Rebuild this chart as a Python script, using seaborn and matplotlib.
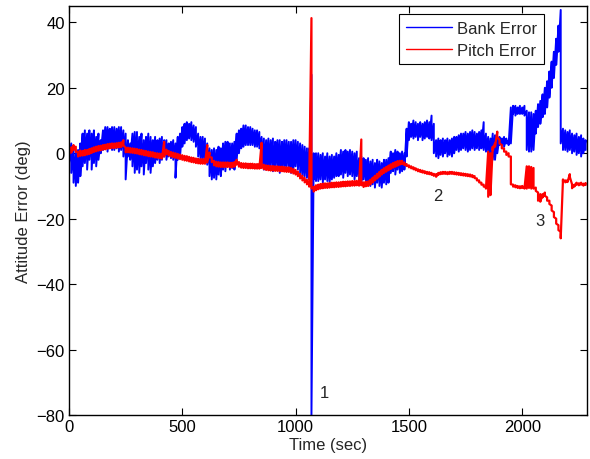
import matplotlib
matplotlib.use("Agg")
import matplotlib.pyplot as plt
import seaborn as sns
import pandas as pd
import numpy as np

# sample times (sec), one reading every 10 s
time = np.arange(0, 2290, 10)

# bank error (deg): top and bottom of the noisy trace at each sample time
bank_hi = [
    5, 3, 1, 0, 1, 3, 6, 7, 6, 7,                             # 0-90
    6, 7, 5, 6, 4, 7, 8, 8, 7.5, 8,                           # 100-190
    8, 7.5, 8, 8, 7, 6, 4, 3, 6, 6.5,                         # 200-290
    6.5, 5, 6, 4, 5, 6, 5, 4, 5, 4,                           # 300-390
    4.5, 5, 4, 4, 3, 3.5, 4, 3, 5, 6,                         # 400-490
    8, 9, 9.5, 9, 9.5, 8.5, 8, 6, 5, 5,                       # 500-590
    4.5, 3, 1.5, 1, 1.5, 1, 2, 1.5, 3, 3.5,                   # 600-690
    3.5, 3, 3, 3.5, 6, 7, 7.5, 8.5, 8.5, 8,                   # 700-790
    8, 7.5, 7, 7, 6.5, 5, 4.5, 4, 4.5, 4,                     # 800-890
    4.5, 3.5, 4, 4, 3.5, 4, 4, 3.5, 3.5, 4,                   # 900-990
    4, 3.5, 3, 2.5, 2, 1.5, 1.5, 24, 0, 0,                    # 1000-1090
    0, -0.5, 0, -1, 0, -1, -0.5, -1, 0, -0.5,                 # 1100-1190
    1, 0.5, 1, 0.5, 1, 0.5, 0, 0.5, -1.5, -1,                 # 1200-1290
    -1.5, -2, -1.5, -2.5, -2, -3, -2, -2.5, -3, -2,           # 1300-1390
    -2, -1.5, 0.5, 0, 1, 0.5, 0, 0.5, 0, 7.5,                 # 1400-1490
    9.5, 9, 10, 9.5, 9, 9.5, 9, 9.5, 10, 9.5,                 # 1500-1590
    11.5, 9, 4, 4.5, 4, 4.5, 4, 4.5, 4, 4.5,                  # 1600-1690
    5, 5, 5.5, 6, 6, 6.5, 6, 6.5, 7, 6.5,                     # 1700-1790
    6, 6.5, 7, 9.5, 6, 5, 4.5, 6, 5.5, 5,                     # 1800-1890
    5, 4.5, 5, 4.5, 4, 14, 14.5, 14.5, 14, 14.5,              # 1900-1990
    14, 14.5, 13, 12.5, 12.5, 12, 13, 15, 16, 18,             # 2000-2090
    20, 22, 25, 28, 31, 35, 39, 43.8, 7.5, 7,                 # 2100-2190
    6.5, 7, 6, 5.5, 6, 5, 5.5, 4.5, 4,                        # 2200-2280
]
bank_lo = [
    -3, -6, -9, -10, -9, -7, -4, -3, -5, -2,                  # 0-90
    -5, -3, -4, -2, 0, 1, 1.5, 0.5, 2, 1,                     # 100-190
    1, 1.5, 0.5, 1, -1, -8, -1, -2, -4, -6,                   # 200-290
    -5, -6, -4, -6.5, -3, -5, -6, -4, -3, -2,                 # 300-390
    -3, -2, -1, -2, -1, -1.5, -2, -7.5, -2, -1,               # 400-490
    2, 3, 4, 4.5, 4, 3.5, 2, -1, -2, -2,                      # 500-590
    -2.5, -3.5, -7, -8, -7.5, -8, -6.5, -7, -5, -5.5,         # 600-690
    -4, -5, -4.5, -5, -2, 0, 1.5, 2, 2.5, 2.5,                # 700-790
    2.5, 2.5, 2, 2, 1.5, -4, -5, -5, -4.5, -4,                # 800-890
    -5.5, -4, -5, -6, -4.5, -5, -4, -5.5, -6, -5,             # 900-990
    -4, -5, -6.5, -7, -7, -7.5, -8, -80, -8, -8.5,            # 1000-1090
    -8.5, -8, -9, -8, -8.5, -9, -8, -7.5, -7, -7,             # 1100-1190
    -6.5, -7.5, -6, -7, -6.5, -7, -8, -7, -9, -9.5,           # 1200-1290
    -8, -9.5, -9, -10, -9.5, -10.5, -9, -10, -10.5, -9,       # 1300-1390
    -9.5, -9, -6, -5.5, -6.5, -5, -6, -5.5, -5, -1,           # 1400-1490
    4, 5, 4.5, 5, 4, 5, 4, 4.5, 5, 4.5,                       # 1500-1590
    4, 0, -1, -1.5, -0.5, -1, 0, -1, -0.5, -1,                # 1600-1690
    0, 1, 0.5, 1, 1.5, 1, 0.5, 1, 1.5, 1,                     # 1700-1790
    1.5, 1, 1.5, 1, 0.5, -1, -1.5, -2, -2, 0,                 # 1800-1890
    2.5, 2.5, 2, 3, 2.5, 3, 12, 11.5, 12, 12,                 # 1900-1990
    12, 11.5, 1, 0.5, 0.5, 1, 6, 8, 9, 11,                    # 2000-2090
    12, 14, 17, 20, 23, 27, 31, 3, 1, 1,                      # 2100-2190
    0.5, 1, 0, 0.5, -0.5, 0, -1, 0, 1,                        # 2200-2280
]

# pitch error (deg): top and bottom of the trace at each sample time
pitch_hi = [
    1.2, 1.8, 2.5, 2, 0.5, 0.8, 0.7, 1, 1, 1.3,                          # 0-90
    1.5, 1.8, 2, 2.2, 2.3, 2.5, 2.6, 2.8, 2.9, 3,                        # 100-190
    3, 3.1, 3.2, 3.3, 4, 1.7, 1.7, 1.6, 1.5, 1.4,                        # 200-290
    1.3, 1.1, 1, 0.8, 0.7, 0.5, 0.4, 0.3, 0.1, 0,                        # 300-390
    -0.1, -0.2, 3.5, 1.1, 0.7, 0.4, 0.2, 0, -0.2, -0.4,                  # 400-490
    -0.6, -0.8, -0.9, -1.1, -1.3, -1.4, -1.6, -1.7, -1.8, -1.8,          # 500-590
    -1.8, 2.5, 0.2, -1.3, -2.3, -2.6, -2.7, -2.8, -2.8, -2.8,            # 600-690
    -2.8, -2.9, -2.9, -2.7, -2, -2.7, -3, -3.1, -3.1, -3.2,              # 700-790
    -3.2, -3.2, -3.3, -3.3, -3.3, 3.2, -3.5, -3.7, -3.8, -3.9,           # 800-890
    -3.9, -4, -4, -4.1, -4.1, -4.2, -4.3, -4.3, -4.5, -4.8,              # 900-990
    -5.1, -5.6, -6.3, -6.9, -7.5, -8.1, -8.8, 41.3, -10.3, -9.8,         # 1000-1090
    -9.6, -9.4, -9.3, -9.2, -9.2, -9.1, -9, -9, -8.9, -8.9,              # 1100-1190
    -8.8, -8.7, -8.7, -8.6, -8.6, -8.5, -8.5, -8.4, -8.5, 4.2,           # 1200-1290
    -8.9, -8.7, -8.6, -8.1, -7.5, -6.9, -6.3, -5.7, -5.1, -4.6,          # 1300-1390
    -4.2, -3.8, -3.4, -3, -2.7, -2.4, -2.3, -2.3, -2.8, -3.3,            # 1400-1490
    -3.7, -4, -4.3, -4.6, -4.9, -5.1, -5.3, -5.5, -5.7, -5.8,            # 1500-1590
    -6, -6.3, -6.4, -6, -5.8, -5.7, -5.7, -5.8, -5.7, -5.7,              # 1600-1690
    -5.8, -5.9, -6, -6.1, -6.2, -6.3, -6.4, -6.5, -6.7, -7,              # 1700-1790
    -7.7, -8.3, -9, -9.6, -10.2, 0.5, 0, 2, 3, 6.6,                      # 1800-1890
    4, 2.5, 1.5, 0.5, 0, -1, -9.6, -9.8, -10, -10.1,                     # 1900-1990
    -10, -10.2, -4, -4, -4.2, -4.5, -10.5, -12, -12.5, -12.5,            # 2000-2090
    -12, -13.5, -14.5, -16, -18, -20, -22, -24, -8, -8.3,                # 2100-2190
    -8.2, -6.4, -9.5, -9.6, -9, -9.2, -9, -9.3, -9.1,                    # 2200-2280
]
pitch_lo = [
    -0.3, 0.2, 1, 0.4, -1, -0.8, -0.7, -0.6, -0.4, -0.2,                 # 0-90
    0.1, 0.4, 0.6, 0.8, 0.9, 1.1, 1.2, 1.4, 1.5, 1.6,                    # 100-190
    1.6, 1.7, 1.8, 1.9, 2.4, 0.3, 0.3, 0.2, 0.1, 0,                      # 200-290
    -0.1, -0.3, -0.4, -0.6, -0.7, -0.9, -1, -1.1, -1.3, -1.4,            # 300-390
    -1.5, -1.6, -1, -0.3, -0.7, -1, -1.2, -1.4, -1.6, -1.8,              # 400-490
    -2, -2.2, -2.3, -2.5, -2.7, -2.8, -3, -3.1, -3.2, -3.2,              # 500-590
    -3.2, -2.8, -1.2, -2.7, -3.7, -4, -4.1, -4.2, -4.2, -4.2,            # 600-690
    -4.2, -4.3, -4.3, -4.1, -3.5, -4.1, -4.4, -4.5, -4.5, -4.6,          # 700-790
    -4.6, -4.6, -4.7, -4.7, -4.7, -4.5, -4.9, -5.1, -5.2, -5.3,          # 800-890
    -5.3, -5.4, -5.4, -5.5, -5.5, -5.6, -5.7, -5.7, -5.9, -6.2,          # 900-990
    -6.5, -7, -7.7, -8.3, -8.9, -9.5, -10.2, -10.8, -11.7, -11.3,        # 1000-1090
    -11, -10.8, -10.7, -10.6, -10.6, -10.5, -10.4, -10.4, -10.3, -10.3,  # 1100-1190
    -10.2, -10.1, -10.1, -10, -10, -9.9, -9.9, -9.8, -9.9, -9.8,         # 1200-1290
    -10.3, -10.1, -10, -9.5, -8.9, -8.3, -7.7, -7.1, -6.5, -6,           # 1300-1390
    -5.6, -5.2, -4.8, -4.4, -4.1, -3.8, -3.5, -3.3, -3.6, -3.9,          # 1400-1490
    -4.3, -4.6, -4.9, -5.2, -5.5, -5.7, -5.9, -6.1, -6.3, -6.4,          # 1500-1590
    -6.6, -6.9, -7.2, -6.6, -6.4, -6.3, -6.3, -6.4, -6.3, -6.3,          # 1600-1690
    -6.4, -6.5, -6.6, -6.7, -6.8, -6.9, -7, -7.1, -7.3, -7.6,            # 1700-1790
    -8.3, -8.9, -9.6, -10.2, -10.8, -13.3, -12.8, 1, 2, 5,               # 1800-1890
    3, 1.5, 0.5, -0.5, -1, -9.5, -10.2, -10.4, -10.6, -10.7,             # 1900-1990
    -10.6, -10.8, -10.8, -10.6, -10.8, -10.8, -11.5, -14.5, -14.8, -13.5,  # 2000-2090
    -13, -14.5, -15.5, -17.5, -19.5, -21.5, -23.5, -26, -8.6, -8.9,      # 2100-2190
    -8.8, -7.2, -10.7, -10.2, -9.6, -9.8, -9.6, -9.9, -9.7,              # 2200-2280
]

series_names = ["Bank Error", "Pitch Error"]
colors = ["#0000ff", "#ff0000"]
x_ticks = [0, 500, 1000, 1500, 2000]
y_ticks = [-80, -60, -40, -20, 0, 20, 40]


def trace(hi, lo, name):
    # walk top -> bottom at every sample so the noisy band is drawn as one line
    vals = np.column_stack([hi, lo]).ravel()
    return pd.DataFrame({"Time": np.repeat(time, 2), "Error": vals, "Series": name})


bank_df = trace(bank_hi, bank_lo, series_names[0])
pitch_df = trace(pitch_hi, pitch_lo, series_names[1])

sns.set_style("ticks")
plt.rcParams["font.family"] = ["Liberation Sans", "DejaVu Sans"]
plt.rcParams["font.size"] = 12

fig = plt.figure(figsize=(5.9, 4.6), dpi=100)
ax = fig.add_axes([69 / 590, 1 - 416 / 460, 518 / 590, 409 / 460])

sns.lineplot(data=bank_df, x="Time", y="Error", estimator=None, sort=False,
             color=colors[0], linewidth=1.4, label=series_names[0], ax=ax)
sns.lineplot(data=pitch_df, x="Time", y="Error", estimator=None, sort=False,
             color=colors[1], linewidth=1.6, label=series_names[1], ax=ax)

ax.set_xlim(0, 2286)
ax.set_ylim(-80, 45)
ax.set_xticks(x_ticks)
ax.set_yticks(y_ticks)
ax.set_xlabel("Time (sec)", fontsize=12, labelpad=2)
ax.set_ylabel("Attitude Error (deg)", fontsize=12, labelpad=4)
ax.tick_params(direction="in", length=5, width=0.8, top=True, right=True,
               labelsize=12, colors="black", pad=3)
for sp in ax.spines.values():
    sp.set_visible(True)
    sp.set_color("black")
    sp.set_linewidth(1.0)

ax.text(1125, -73, "1", fontsize=12, ha="center", va="center")
ax.text(1628, -13, "2", fontsize=12, ha="center", va="center")
ax.text(2079, -20.5, "3", fontsize=12, ha="center", va="center")

leg = ax.legend(loc="upper right", bbox_to_anchor=(0.917, 0.98), borderaxespad=0,
                fancybox=False, edgecolor="black", framealpha=1, fontsize=12,
                handlelength=2.8, handletextpad=0.3, borderpad=0.4, labelspacing=0.4)
leg.get_frame().set_linewidth(0.8)
for line in leg.get_lines():
    line.set_linewidth(1.0)

fig.savefig("out.png", dpi=100)
